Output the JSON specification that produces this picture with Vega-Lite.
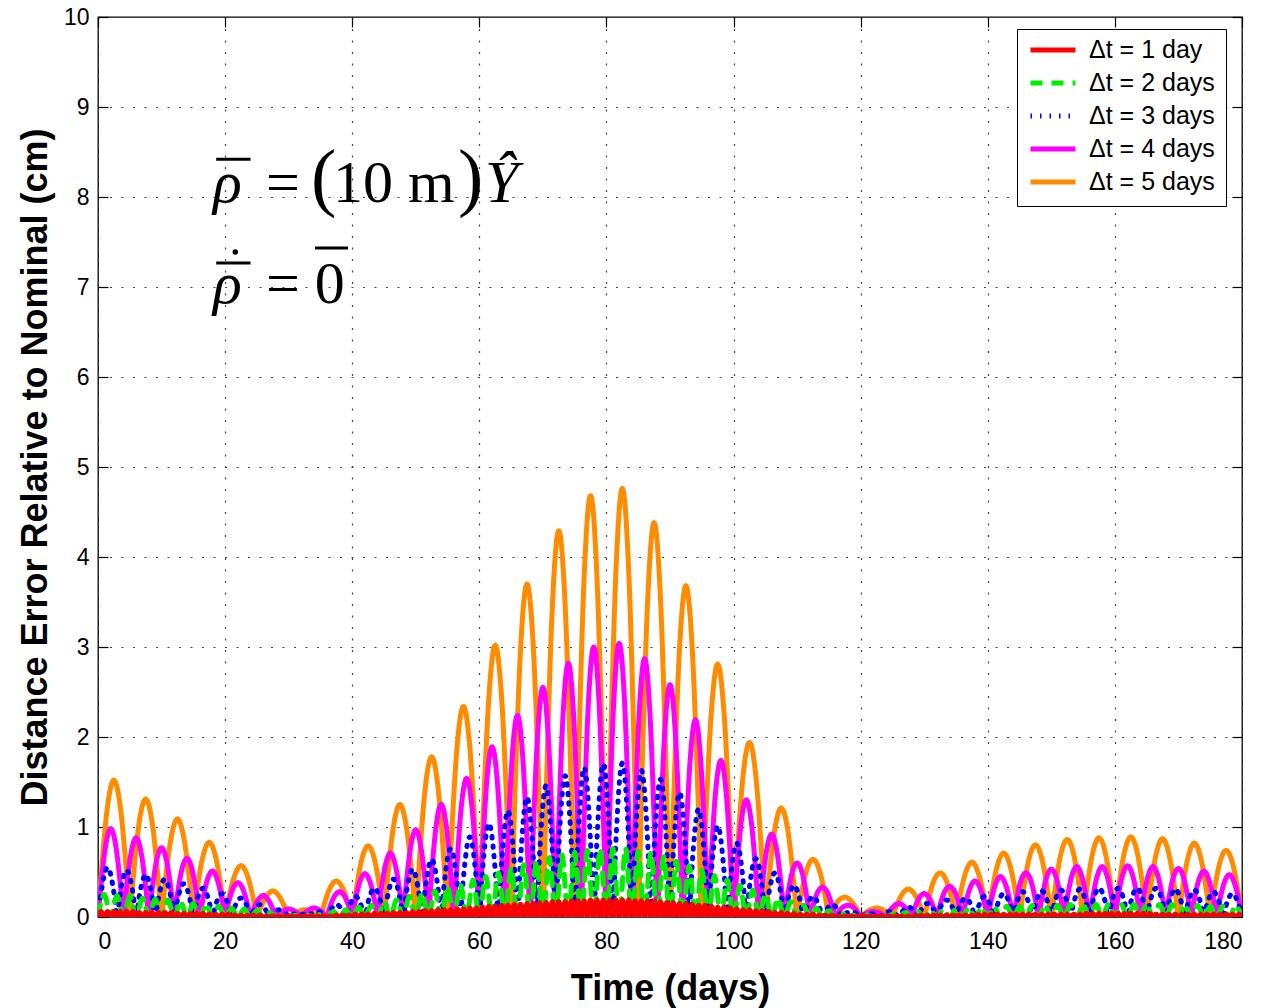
{
"$schema": "https://vega.github.io/schema/vega-lite/v6.json",
"width": 1144, "height": 900,
"autosize": {"type": "none"},
"padding": {"left": 98, "top": 17, "right": 25, "bottom": 91},
"background": "white",
"config": {
 "view": {"stroke": "black", "strokeWidth": 1.3},
 "font": "Liberation Sans",
 "axis": {"labelFont": "Liberation Sans", "labelFontSize": 23, "labelColor": "black", "titleFont": "Liberation Sans", "titleFontSize": 36, "titleFontWeight": "bold", "titleColor": "black", "tickColor": "black", "tickWidth": 1.2, "gridColor": "#444444", "gridDash": [2, 9.5], "gridWidth": 1.2, "gridOpacity": 1, "domain": false}
},
"datasets": {
"curves": [
{"d":5,"t":0,"e":0},{"d":5,"t":0.5,"e":0.47},{"d":5,"t":1.5,"e":1.23},{"d":5,"t":2.5,"e":1.52},{"d":5,"t":3.5,"e":1.23},{"d":5,"t":4.5,"e":0.47},
{"d":5,"t":5,"e":0},{"d":5,"t":5.5,"e":0.4},{"d":5,"t":6.5,"e":1.06},{"d":5,"t":7.5,"e":1.31},{"d":5,"t":8.5,"e":1.06},{"d":5,"t":9.5,"e":0.4},
{"d":5,"t":10,"e":0},{"d":5,"t":10.5,"e":0.34},{"d":5,"t":11.5,"e":0.88},{"d":5,"t":12.5,"e":1.09},{"d":5,"t":13.5,"e":0.88},{"d":5,"t":14.5,"e":0.34},
{"d":5,"t":15,"e":0},{"d":5,"t":15.5,"e":0.26},{"d":5,"t":16.5,"e":0.67},{"d":5,"t":17.5,"e":0.83},{"d":5,"t":18.5,"e":0.67},{"d":5,"t":19.5,"e":0.26},
{"d":5,"t":20,"e":0},{"d":5,"t":20.5,"e":0.18},{"d":5,"t":21.5,"e":0.46},{"d":5,"t":22.5,"e":0.57},{"d":5,"t":23.5,"e":0.46},{"d":5,"t":24.5,"e":0.18},
{"d":5,"t":25,"e":0},{"d":5,"t":25.5,"e":0.09},{"d":5,"t":26.5,"e":0.23},{"d":5,"t":27.5,"e":0.29},{"d":5,"t":28.5,"e":0.23},{"d":5,"t":29.5,"e":0.09},
{"d":5,"t":30,"e":0},{"d":5,"t":30.5,"e":0.02},{"d":5,"t":31.5,"e":0.06},{"d":5,"t":32.5,"e":0.08},{"d":5,"t":33.5,"e":0.06},{"d":5,"t":34.5,"e":0.02},
{"d":5,"t":35,"e":0},{"d":5,"t":35.5,"e":0.12},{"d":5,"t":36.5,"e":0.32},{"d":5,"t":37.5,"e":0.4},{"d":5,"t":38.5,"e":0.32},{"d":5,"t":39.5,"e":0.12},
{"d":5,"t":40,"e":0},{"d":5,"t":40.5,"e":0.24},{"d":5,"t":41.5,"e":0.64},{"d":5,"t":42.5,"e":0.79},{"d":5,"t":43.5,"e":0.64},{"d":5,"t":44.5,"e":0.24},
{"d":5,"t":45,"e":0},{"d":5,"t":45.5,"e":0.39},{"d":5,"t":46.5,"e":1.01},{"d":5,"t":47.5,"e":1.25},{"d":5,"t":48.5,"e":1.01},{"d":5,"t":49.5,"e":0.39},
{"d":5,"t":50,"e":0},{"d":5,"t":50.5,"e":0.55},{"d":5,"t":51.5,"e":1.44},{"d":5,"t":52.5,"e":1.78},{"d":5,"t":53.5,"e":1.44},{"d":5,"t":54.5,"e":0.55},
{"d":5,"t":55,"e":0},{"d":5,"t":55.5,"e":0.72},{"d":5,"t":56.5,"e":1.89},{"d":5,"t":57.5,"e":2.34},{"d":5,"t":58.5,"e":1.89},{"d":5,"t":59.5,"e":0.72},
{"d":5,"t":60,"e":0},{"d":5,"t":60.5,"e":0.93},{"d":5,"t":61.5,"e":2.44},{"d":5,"t":62.5,"e":3.02},{"d":5,"t":63.5,"e":2.44},{"d":5,"t":64.5,"e":0.93},
{"d":5,"t":65,"e":0},{"d":5,"t":65.5,"e":1.14},{"d":5,"t":66.5,"e":2.99},{"d":5,"t":67.5,"e":3.7},{"d":5,"t":68.5,"e":2.99},{"d":5,"t":69.5,"e":1.14},
{"d":5,"t":70,"e":0},{"d":5,"t":70.5,"e":1.33},{"d":5,"t":71.5,"e":3.47},{"d":5,"t":72.5,"e":4.29},{"d":5,"t":73.5,"e":3.47},{"d":5,"t":74.5,"e":1.33},
{"d":5,"t":75,"e":0},{"d":5,"t":75.5,"e":1.45},{"d":5,"t":76.5,"e":3.79},{"d":5,"t":77.5,"e":4.68},{"d":5,"t":78.5,"e":3.79},{"d":5,"t":79.5,"e":1.45},
{"d":5,"t":80,"e":0},{"d":5,"t":80.5,"e":1.47},{"d":5,"t":81.5,"e":3.85},{"d":5,"t":82.5,"e":4.76},{"d":5,"t":83.5,"e":3.85},{"d":5,"t":84.5,"e":1.47},
{"d":5,"t":85,"e":0},{"d":5,"t":85.5,"e":1.35},{"d":5,"t":86.5,"e":3.54},{"d":5,"t":87.5,"e":4.38},{"d":5,"t":88.5,"e":3.54},{"d":5,"t":89.5,"e":1.35},
{"d":5,"t":90,"e":0},{"d":5,"t":90.5,"e":1.14},{"d":5,"t":91.5,"e":2.98},{"d":5,"t":92.5,"e":3.68},{"d":5,"t":93.5,"e":2.98},{"d":5,"t":94.5,"e":1.14},
{"d":5,"t":95,"e":0},{"d":5,"t":95.5,"e":0.87},{"d":5,"t":96.5,"e":2.27},{"d":5,"t":97.5,"e":2.81},{"d":5,"t":98.5,"e":2.27},{"d":5,"t":99.5,"e":0.87},
{"d":5,"t":100,"e":0},{"d":5,"t":100.5,"e":0.6},{"d":5,"t":101.5,"e":1.57},{"d":5,"t":102.5,"e":1.94},{"d":5,"t":103.5,"e":1.57},{"d":5,"t":104.5,"e":0.6},
{"d":5,"t":105,"e":0},{"d":5,"t":105.5,"e":0.37},{"d":5,"t":106.5,"e":0.98},{"d":5,"t":107.5,"e":1.21},{"d":5,"t":108.5,"e":0.98},{"d":5,"t":109.5,"e":0.37},
{"d":5,"t":110,"e":0},{"d":5,"t":110.5,"e":0.2},{"d":5,"t":111.5,"e":0.52},{"d":5,"t":112.5,"e":0.64},{"d":5,"t":113.5,"e":0.52},{"d":5,"t":114.5,"e":0.2},
{"d":5,"t":115,"e":0},{"d":5,"t":115.5,"e":0.07},{"d":5,"t":116.5,"e":0.18},{"d":5,"t":117.5,"e":0.22},{"d":5,"t":118.5,"e":0.18},{"d":5,"t":119.5,"e":0.07},
{"d":5,"t":120,"e":0},{"d":5,"t":120.5,"e":0.03},{"d":5,"t":121.5,"e":0.08},{"d":5,"t":122.5,"e":0.1},{"d":5,"t":123.5,"e":0.08},{"d":5,"t":124.5,"e":0.03},
{"d":5,"t":125,"e":0},{"d":5,"t":125.5,"e":0.1},{"d":5,"t":126.5,"e":0.25},{"d":5,"t":127.5,"e":0.31},{"d":5,"t":128.5,"e":0.25},{"d":5,"t":129.5,"e":0.1},
{"d":5,"t":130,"e":0},{"d":5,"t":130.5,"e":0.15},{"d":5,"t":131.5,"e":0.4},{"d":5,"t":132.5,"e":0.49},{"d":5,"t":133.5,"e":0.4},{"d":5,"t":134.5,"e":0.15},
{"d":5,"t":135,"e":0},{"d":5,"t":135.5,"e":0.19},{"d":5,"t":136.5,"e":0.49},{"d":5,"t":137.5,"e":0.61},{"d":5,"t":138.5,"e":0.49},{"d":5,"t":139.5,"e":0.19},
{"d":5,"t":140,"e":0},{"d":5,"t":140.5,"e":0.22},{"d":5,"t":141.5,"e":0.57},{"d":5,"t":142.5,"e":0.71},{"d":5,"t":143.5,"e":0.57},{"d":5,"t":144.5,"e":0.22},
{"d":5,"t":145,"e":0},{"d":5,"t":145.5,"e":0.25},{"d":5,"t":146.5,"e":0.65},{"d":5,"t":147.5,"e":0.8},{"d":5,"t":148.5,"e":0.65},{"d":5,"t":149.5,"e":0.25},
{"d":5,"t":150,"e":0},{"d":5,"t":150.5,"e":0.27},{"d":5,"t":151.5,"e":0.7},{"d":5,"t":152.5,"e":0.86},{"d":5,"t":153.5,"e":0.7},{"d":5,"t":154.5,"e":0.27},
{"d":5,"t":155,"e":0},{"d":5,"t":155.5,"e":0.27},{"d":5,"t":156.5,"e":0.71},{"d":5,"t":157.5,"e":0.88},{"d":5,"t":158.5,"e":0.71},{"d":5,"t":159.5,"e":0.27},
{"d":5,"t":160,"e":0},{"d":5,"t":160.5,"e":0.28},{"d":5,"t":161.5,"e":0.72},{"d":5,"t":162.5,"e":0.89},{"d":5,"t":163.5,"e":0.72},{"d":5,"t":164.5,"e":0.28},
{"d":5,"t":165,"e":0},{"d":5,"t":165.5,"e":0.27},{"d":5,"t":166.5,"e":0.7},{"d":5,"t":167.5,"e":0.87},{"d":5,"t":168.5,"e":0.7},{"d":5,"t":169.5,"e":0.27},
{"d":5,"t":170,"e":0},{"d":5,"t":170.5,"e":0.25},{"d":5,"t":171.5,"e":0.66},{"d":5,"t":172.5,"e":0.82},{"d":5,"t":173.5,"e":0.66},{"d":5,"t":174.5,"e":0.25},
{"d":5,"t":175,"e":0},{"d":5,"t":175.5,"e":0.23},{"d":5,"t":176.5,"e":0.6},{"d":5,"t":177.5,"e":0.74},{"d":5,"t":178.5,"e":0.6},{"d":5,"t":179.5,"e":0.23},
{"d":5,"t":180,"e":0},

{"d":4,"t":0,"e":0},{"d":4,"t":0.4,"e":0.3},{"d":4,"t":1.2,"e":0.79},{"d":4,"t":2,"e":0.98},{"d":4,"t":2.8,"e":0.79},{"d":4,"t":3.6,"e":0.3},
{"d":4,"t":4,"e":0},{"d":4,"t":4.4,"e":0.27},{"d":4,"t":5.2,"e":0.71},{"d":4,"t":6,"e":0.88},{"d":4,"t":6.8,"e":0.71},{"d":4,"t":7.6,"e":0.27},
{"d":4,"t":8,"e":0},{"d":4,"t":8.4,"e":0.24},{"d":4,"t":9.2,"e":0.62},{"d":4,"t":10,"e":0.77},{"d":4,"t":10.8,"e":0.62},{"d":4,"t":11.6,"e":0.24},
{"d":4,"t":12,"e":0},{"d":4,"t":12.4,"e":0.2},{"d":4,"t":13.2,"e":0.53},{"d":4,"t":14,"e":0.65},{"d":4,"t":14.8,"e":0.53},{"d":4,"t":15.6,"e":0.2},
{"d":4,"t":16,"e":0},{"d":4,"t":16.4,"e":0.16},{"d":4,"t":17.2,"e":0.41},{"d":4,"t":18,"e":0.51},{"d":4,"t":18.8,"e":0.41},{"d":4,"t":19.6,"e":0.16},
{"d":4,"t":20,"e":0},{"d":4,"t":20.4,"e":0.12},{"d":4,"t":21.2,"e":0.31},{"d":4,"t":22,"e":0.38},{"d":4,"t":22.8,"e":0.31},{"d":4,"t":23.6,"e":0.12},
{"d":4,"t":24,"e":0},{"d":4,"t":24.4,"e":0.07},{"d":4,"t":25.2,"e":0.19},{"d":4,"t":26,"e":0.24},{"d":4,"t":26.8,"e":0.19},{"d":4,"t":27.6,"e":0.07},
{"d":4,"t":28,"e":0},{"d":4,"t":28.4,"e":0.03},{"d":4,"t":29.2,"e":0.07},{"d":4,"t":30,"e":0.09},{"d":4,"t":30.8,"e":0.07},{"d":4,"t":31.6,"e":0.03},
{"d":4,"t":32,"e":0},{"d":4,"t":32.4,"e":0.03},{"d":4,"t":33.2,"e":0.08},{"d":4,"t":34,"e":0.1},{"d":4,"t":34.8,"e":0.08},{"d":4,"t":35.6,"e":0.03},
{"d":4,"t":36,"e":0},{"d":4,"t":36.4,"e":0.09},{"d":4,"t":37.2,"e":0.23},{"d":4,"t":38,"e":0.28},{"d":4,"t":38.8,"e":0.23},{"d":4,"t":39.6,"e":0.09},
{"d":4,"t":40,"e":0},{"d":4,"t":40.4,"e":0.15},{"d":4,"t":41.2,"e":0.39},{"d":4,"t":42,"e":0.48},{"d":4,"t":42.8,"e":0.39},{"d":4,"t":43.6,"e":0.15},
{"d":4,"t":44,"e":0},{"d":4,"t":44.4,"e":0.22},{"d":4,"t":45.2,"e":0.57},{"d":4,"t":46,"e":0.71},{"d":4,"t":46.8,"e":0.57},{"d":4,"t":47.6,"e":0.22},
{"d":4,"t":48,"e":0},{"d":4,"t":48.4,"e":0.3},{"d":4,"t":49.2,"e":0.78},{"d":4,"t":50,"e":0.97},{"d":4,"t":50.8,"e":0.78},{"d":4,"t":51.6,"e":0.3},
{"d":4,"t":52,"e":0},{"d":4,"t":52.4,"e":0.39},{"d":4,"t":53.2,"e":1.01},{"d":4,"t":54,"e":1.25},{"d":4,"t":54.8,"e":1.01},{"d":4,"t":55.6,"e":0.39},
{"d":4,"t":56,"e":0},{"d":4,"t":56.4,"e":0.48},{"d":4,"t":57.2,"e":1.25},{"d":4,"t":58,"e":1.54},{"d":4,"t":58.8,"e":1.25},{"d":4,"t":59.6,"e":0.48},
{"d":4,"t":60,"e":0},{"d":4,"t":60.4,"e":0.58},{"d":4,"t":61.2,"e":1.53},{"d":4,"t":62,"e":1.89},{"d":4,"t":62.8,"e":1.53},{"d":4,"t":63.6,"e":0.58},
{"d":4,"t":64,"e":0},{"d":4,"t":64.4,"e":0.69},{"d":4,"t":65.2,"e":1.81},{"d":4,"t":66,"e":2.24},{"d":4,"t":66.8,"e":1.81},{"d":4,"t":67.6,"e":0.69},
{"d":4,"t":68,"e":0},{"d":4,"t":68.4,"e":0.79},{"d":4,"t":69.2,"e":2.06},{"d":4,"t":70,"e":2.55},{"d":4,"t":70.8,"e":2.06},{"d":4,"t":71.6,"e":0.79},
{"d":4,"t":72,"e":0},{"d":4,"t":72.4,"e":0.87},{"d":4,"t":73.2,"e":2.28},{"d":4,"t":74,"e":2.82},{"d":4,"t":74.8,"e":2.28},{"d":4,"t":75.6,"e":0.87},
{"d":4,"t":76,"e":0},{"d":4,"t":76.4,"e":0.93},{"d":4,"t":77.2,"e":2.43},{"d":4,"t":78,"e":3},{"d":4,"t":78.8,"e":2.43},{"d":4,"t":79.6,"e":0.93},
{"d":4,"t":80,"e":0},{"d":4,"t":80.4,"e":0.94},{"d":4,"t":81.2,"e":2.46},{"d":4,"t":82,"e":3.04},{"d":4,"t":82.8,"e":2.46},{"d":4,"t":83.6,"e":0.94},
{"d":4,"t":84,"e":0},{"d":4,"t":84.4,"e":0.89},{"d":4,"t":85.2,"e":2.32},{"d":4,"t":86,"e":2.87},{"d":4,"t":86.8,"e":2.32},{"d":4,"t":87.6,"e":0.89},
{"d":4,"t":88,"e":0},{"d":4,"t":88.4,"e":0.8},{"d":4,"t":89.2,"e":2.09},{"d":4,"t":90,"e":2.58},{"d":4,"t":90.8,"e":2.09},{"d":4,"t":91.6,"e":0.8},
{"d":4,"t":92,"e":0},{"d":4,"t":92.4,"e":0.68},{"d":4,"t":93.2,"e":1.77},{"d":4,"t":94,"e":2.19},{"d":4,"t":94.8,"e":1.77},{"d":4,"t":95.6,"e":0.68},
{"d":4,"t":96,"e":0},{"d":4,"t":96.4,"e":0.54},{"d":4,"t":97.2,"e":1.41},{"d":4,"t":98,"e":1.74},{"d":4,"t":98.8,"e":1.41},{"d":4,"t":99.6,"e":0.54},
{"d":4,"t":100,"e":0},{"d":4,"t":100.4,"e":0.4},{"d":4,"t":101.2,"e":1.05},{"d":4,"t":102,"e":1.3},{"d":4,"t":102.8,"e":1.05},{"d":4,"t":103.6,"e":0.4},
{"d":4,"t":104,"e":0},{"d":4,"t":104.4,"e":0.28},{"d":4,"t":105.2,"e":0.74},{"d":4,"t":106,"e":0.92},{"d":4,"t":106.8,"e":0.74},{"d":4,"t":107.6,"e":0.28},
{"d":4,"t":108,"e":0},{"d":4,"t":108.4,"e":0.19},{"d":4,"t":109.2,"e":0.49},{"d":4,"t":110,"e":0.6},{"d":4,"t":110.8,"e":0.49},{"d":4,"t":111.6,"e":0.19},
{"d":4,"t":112,"e":0},{"d":4,"t":112.4,"e":0.1},{"d":4,"t":113.2,"e":0.27},{"d":4,"t":114,"e":0.33},{"d":4,"t":114.8,"e":0.27},{"d":4,"t":115.6,"e":0.1},
{"d":4,"t":116,"e":0},{"d":4,"t":116.4,"e":0.04},{"d":4,"t":117.2,"e":0.11},{"d":4,"t":118,"e":0.13},{"d":4,"t":118.8,"e":0.11},{"d":4,"t":119.6,"e":0.04},
{"d":4,"t":120,"e":0},{"d":4,"t":120.4,"e":0.02},{"d":4,"t":121.2,"e":0.05},{"d":4,"t":122,"e":0.06},{"d":4,"t":122.8,"e":0.05},{"d":4,"t":123.6,"e":0.02},
{"d":4,"t":124,"e":0},{"d":4,"t":124.4,"e":0.05},{"d":4,"t":125.2,"e":0.12},{"d":4,"t":126,"e":0.15},{"d":4,"t":126.8,"e":0.12},{"d":4,"t":127.6,"e":0.05},
{"d":4,"t":128,"e":0},{"d":4,"t":128.4,"e":0.08},{"d":4,"t":129.2,"e":0.21},{"d":4,"t":130,"e":0.26},{"d":4,"t":130.8,"e":0.21},{"d":4,"t":131.6,"e":0.08},
{"d":4,"t":132,"e":0},{"d":4,"t":132.4,"e":0.11},{"d":4,"t":133.2,"e":0.28},{"d":4,"t":134,"e":0.34},{"d":4,"t":134.8,"e":0.28},{"d":4,"t":135.6,"e":0.11},
{"d":4,"t":136,"e":0},{"d":4,"t":136.4,"e":0.12},{"d":4,"t":137.2,"e":0.32},{"d":4,"t":138,"e":0.4},{"d":4,"t":138.8,"e":0.32},{"d":4,"t":139.6,"e":0.12},
{"d":4,"t":140,"e":0},{"d":4,"t":140.4,"e":0.14},{"d":4,"t":141.2,"e":0.36},{"d":4,"t":142,"e":0.45},{"d":4,"t":142.8,"e":0.36},{"d":4,"t":143.6,"e":0.14},
{"d":4,"t":144,"e":0},{"d":4,"t":144.4,"e":0.15},{"d":4,"t":145.2,"e":0.4},{"d":4,"t":146,"e":0.49},{"d":4,"t":146.8,"e":0.4},{"d":4,"t":147.6,"e":0.15},
{"d":4,"t":148,"e":0},{"d":4,"t":148.4,"e":0.16},{"d":4,"t":149.2,"e":0.43},{"d":4,"t":150,"e":0.53},{"d":4,"t":150.8,"e":0.43},{"d":4,"t":151.6,"e":0.16},
{"d":4,"t":152,"e":0},{"d":4,"t":152.4,"e":0.17},{"d":4,"t":153.2,"e":0.45},{"d":4,"t":154,"e":0.56},{"d":4,"t":154.8,"e":0.45},{"d":4,"t":155.6,"e":0.17},
{"d":4,"t":156,"e":0},{"d":4,"t":156.4,"e":0.17},{"d":4,"t":157.2,"e":0.45},{"d":4,"t":158,"e":0.56},{"d":4,"t":158.8,"e":0.45},{"d":4,"t":159.6,"e":0.17},
{"d":4,"t":160,"e":0},{"d":4,"t":160.4,"e":0.18},{"d":4,"t":161.2,"e":0.46},{"d":4,"t":162,"e":0.57},{"d":4,"t":162.8,"e":0.46},{"d":4,"t":163.6,"e":0.18},
{"d":4,"t":164,"e":0},{"d":4,"t":164.4,"e":0.17},{"d":4,"t":165.2,"e":0.45},{"d":4,"t":166,"e":0.56},{"d":4,"t":166.8,"e":0.45},{"d":4,"t":167.6,"e":0.17},
{"d":4,"t":168,"e":0},{"d":4,"t":168.4,"e":0.17},{"d":4,"t":169.2,"e":0.44},{"d":4,"t":170,"e":0.54},{"d":4,"t":170.8,"e":0.44},{"d":4,"t":171.6,"e":0.17},
{"d":4,"t":172,"e":0},{"d":4,"t":172.4,"e":0.16},{"d":4,"t":173.2,"e":0.41},{"d":4,"t":174,"e":0.51},{"d":4,"t":174.8,"e":0.41},{"d":4,"t":175.6,"e":0.16},
{"d":4,"t":176,"e":0},{"d":4,"t":176.4,"e":0.15},{"d":4,"t":177.2,"e":0.38},{"d":4,"t":178,"e":0.47},{"d":4,"t":178.8,"e":0.38},{"d":4,"t":179.6,"e":0.15},
{"d":4,"t":180,"e":0},

{"d":3,"t":0,"e":0},{"d":3,"t":0.45,"e":0.25},{"d":3,"t":1.5,"e":0.55},{"d":3,"t":2.55,"e":0.25},
{"d":3,"t":3,"e":0},{"d":3,"t":3.45,"e":0.24},{"d":3,"t":4.5,"e":0.52},{"d":3,"t":5.55,"e":0.24},
{"d":3,"t":6,"e":0},{"d":3,"t":6.45,"e":0.21},{"d":3,"t":7.5,"e":0.47},{"d":3,"t":8.55,"e":0.21},
{"d":3,"t":9,"e":0},{"d":3,"t":9.45,"e":0.19},{"d":3,"t":10.5,"e":0.42},{"d":3,"t":11.55,"e":0.19},
{"d":3,"t":12,"e":0},{"d":3,"t":12.45,"e":0.17},{"d":3,"t":13.5,"e":0.37},{"d":3,"t":14.55,"e":0.17},
{"d":3,"t":15,"e":0},{"d":3,"t":15.45,"e":0.15},{"d":3,"t":16.5,"e":0.32},{"d":3,"t":17.55,"e":0.15},
{"d":3,"t":18,"e":0},{"d":3,"t":18.45,"e":0.12},{"d":3,"t":19.5,"e":0.26},{"d":3,"t":20.55,"e":0.12},
{"d":3,"t":21,"e":0},{"d":3,"t":21.45,"e":0.1},{"d":3,"t":22.5,"e":0.21},{"d":3,"t":23.55,"e":0.1},
{"d":3,"t":24,"e":0},{"d":3,"t":24.45,"e":0.06},{"d":3,"t":25.5,"e":0.14},{"d":3,"t":26.55,"e":0.06},
{"d":3,"t":27,"e":0},{"d":3,"t":27.45,"e":0.04},{"d":3,"t":28.5,"e":0.08},{"d":3,"t":29.55,"e":0.04},
{"d":3,"t":30,"e":0},{"d":3,"t":30.45,"e":0.02},{"d":3,"t":31.5,"e":0.04},{"d":3,"t":32.55,"e":0.02},
{"d":3,"t":33,"e":0},{"d":3,"t":33.45,"e":0.03},{"d":3,"t":34.5,"e":0.06},{"d":3,"t":35.55,"e":0.03},
{"d":3,"t":36,"e":0},{"d":3,"t":36.45,"e":0.06},{"d":3,"t":37.5,"e":0.14},{"d":3,"t":38.55,"e":0.06},
{"d":3,"t":39,"e":0},{"d":3,"t":39.45,"e":0.1},{"d":3,"t":40.5,"e":0.23},{"d":3,"t":41.55,"e":0.1},
{"d":3,"t":42,"e":0},{"d":3,"t":42.45,"e":0.15},{"d":3,"t":43.5,"e":0.32},{"d":3,"t":44.55,"e":0.15},
{"d":3,"t":45,"e":0},{"d":3,"t":45.45,"e":0.19},{"d":3,"t":46.5,"e":0.42},{"d":3,"t":47.55,"e":0.19},
{"d":3,"t":48,"e":0},{"d":3,"t":48.45,"e":0.24},{"d":3,"t":49.5,"e":0.53},{"d":3,"t":50.55,"e":0.24},
{"d":3,"t":51,"e":0},{"d":3,"t":51.45,"e":0.29},{"d":3,"t":52.5,"e":0.64},{"d":3,"t":53.55,"e":0.29},
{"d":3,"t":54,"e":0},{"d":3,"t":54.45,"e":0.35},{"d":3,"t":55.5,"e":0.76},{"d":3,"t":56.55,"e":0.35},
{"d":3,"t":57,"e":0},{"d":3,"t":57.45,"e":0.4},{"d":3,"t":58.5,"e":0.89},{"d":3,"t":59.55,"e":0.4},
{"d":3,"t":60,"e":0},{"d":3,"t":60.45,"e":0.47},{"d":3,"t":61.5,"e":1.04},{"d":3,"t":62.55,"e":0.47},
{"d":3,"t":63,"e":0},{"d":3,"t":63.45,"e":0.54},{"d":3,"t":64.5,"e":1.18},{"d":3,"t":65.55,"e":0.54},
{"d":3,"t":66,"e":0},{"d":3,"t":66.45,"e":0.6},{"d":3,"t":67.5,"e":1.33},{"d":3,"t":68.55,"e":0.6},
{"d":3,"t":69,"e":0},{"d":3,"t":69.45,"e":0.66},{"d":3,"t":70.5,"e":1.46},{"d":3,"t":71.55,"e":0.66},
{"d":3,"t":72,"e":0},{"d":3,"t":72.45,"e":0.71},{"d":3,"t":73.5,"e":1.57},{"d":3,"t":74.55,"e":0.71},
{"d":3,"t":75,"e":0},{"d":3,"t":75.45,"e":0.75},{"d":3,"t":76.5,"e":1.66},{"d":3,"t":77.55,"e":0.75},
{"d":3,"t":78,"e":0},{"d":3,"t":78.45,"e":0.77},{"d":3,"t":79.5,"e":1.7},{"d":3,"t":80.55,"e":0.77},
{"d":3,"t":81,"e":0},{"d":3,"t":81.45,"e":0.78},{"d":3,"t":82.5,"e":1.71},{"d":3,"t":83.55,"e":0.78},
{"d":3,"t":84,"e":0},{"d":3,"t":84.45,"e":0.74},{"d":3,"t":85.5,"e":1.63},{"d":3,"t":86.55,"e":0.74},
{"d":3,"t":87,"e":0},{"d":3,"t":87.45,"e":0.69},{"d":3,"t":88.5,"e":1.53},{"d":3,"t":89.55,"e":0.69},
{"d":3,"t":90,"e":0},{"d":3,"t":90.45,"e":0.63},{"d":3,"t":91.5,"e":1.38},{"d":3,"t":92.55,"e":0.63},
{"d":3,"t":93,"e":0},{"d":3,"t":93.45,"e":0.54},{"d":3,"t":94.5,"e":1.2},{"d":3,"t":95.55,"e":0.54},
{"d":3,"t":96,"e":0},{"d":3,"t":96.45,"e":0.46},{"d":3,"t":97.5,"e":1.01},{"d":3,"t":98.55,"e":0.46},
{"d":3,"t":99,"e":0},{"d":3,"t":99.45,"e":0.37},{"d":3,"t":100.5,"e":0.82},{"d":3,"t":101.55,"e":0.37},
{"d":3,"t":102,"e":0},{"d":3,"t":102.45,"e":0.3},{"d":3,"t":103.5,"e":0.65},{"d":3,"t":104.55,"e":0.3},
{"d":3,"t":105,"e":0},{"d":3,"t":105.45,"e":0.22},{"d":3,"t":106.5,"e":0.49},{"d":3,"t":107.55,"e":0.22},
{"d":3,"t":108,"e":0},{"d":3,"t":108.45,"e":0.16},{"d":3,"t":109.5,"e":0.35},{"d":3,"t":110.55,"e":0.16},
{"d":3,"t":111,"e":0},{"d":3,"t":111.45,"e":0.1},{"d":3,"t":112.5,"e":0.23},{"d":3,"t":113.55,"e":0.1},
{"d":3,"t":114,"e":0},{"d":3,"t":114.45,"e":0.06},{"d":3,"t":115.5,"e":0.14},{"d":3,"t":116.55,"e":0.06},
{"d":3,"t":117,"e":0},{"d":3,"t":117.45,"e":0.03},{"d":3,"t":118.5,"e":0.06},{"d":3,"t":119.55,"e":0.03},
{"d":3,"t":120,"e":0},{"d":3,"t":120.45,"e":0.02},{"d":3,"t":121.5,"e":0.04},{"d":3,"t":122.55,"e":0.02},
{"d":3,"t":123,"e":0},{"d":3,"t":123.45,"e":0.03},{"d":3,"t":124.5,"e":0.06},{"d":3,"t":125.55,"e":0.03},
{"d":3,"t":126,"e":0},{"d":3,"t":126.45,"e":0.05},{"d":3,"t":127.5,"e":0.11},{"d":3,"t":128.55,"e":0.05},
{"d":3,"t":129,"e":0},{"d":3,"t":129.45,"e":0.07},{"d":3,"t":130.5,"e":0.15},{"d":3,"t":131.55,"e":0.07},
{"d":3,"t":132,"e":0},{"d":3,"t":132.45,"e":0.09},{"d":3,"t":133.5,"e":0.19},{"d":3,"t":134.55,"e":0.09},
{"d":3,"t":135,"e":0},{"d":3,"t":135.45,"e":0.1},{"d":3,"t":136.5,"e":0.21},{"d":3,"t":137.55,"e":0.1},
{"d":3,"t":138,"e":0},{"d":3,"t":138.45,"e":0.1},{"d":3,"t":139.5,"e":0.23},{"d":3,"t":140.55,"e":0.1},
{"d":3,"t":141,"e":0},{"d":3,"t":141.45,"e":0.12},{"d":3,"t":142.5,"e":0.26},{"d":3,"t":143.55,"e":0.12},
{"d":3,"t":144,"e":0},{"d":3,"t":144.45,"e":0.13},{"d":3,"t":145.5,"e":0.28},{"d":3,"t":146.55,"e":0.13},
{"d":3,"t":147,"e":0},{"d":3,"t":147.45,"e":0.13},{"d":3,"t":148.5,"e":0.29},{"d":3,"t":149.55,"e":0.13},
{"d":3,"t":150,"e":0},{"d":3,"t":150.45,"e":0.14},{"d":3,"t":151.5,"e":0.3},{"d":3,"t":152.55,"e":0.14},
{"d":3,"t":153,"e":0},{"d":3,"t":153.45,"e":0.14},{"d":3,"t":154.5,"e":0.31},{"d":3,"t":155.55,"e":0.14},
{"d":3,"t":156,"e":0},{"d":3,"t":156.45,"e":0.15},{"d":3,"t":157.5,"e":0.32},{"d":3,"t":158.55,"e":0.15},
{"d":3,"t":159,"e":0},{"d":3,"t":159.45,"e":0.15},{"d":3,"t":160.5,"e":0.32},{"d":3,"t":161.55,"e":0.15},
{"d":3,"t":162,"e":0},{"d":3,"t":162.45,"e":0.15},{"d":3,"t":163.5,"e":0.32},{"d":3,"t":164.55,"e":0.15},
{"d":3,"t":165,"e":0},{"d":3,"t":165.45,"e":0.15},{"d":3,"t":166.5,"e":0.32},{"d":3,"t":167.55,"e":0.15},
{"d":3,"t":168,"e":0},{"d":3,"t":168.45,"e":0.14},{"d":3,"t":169.5,"e":0.31},{"d":3,"t":170.55,"e":0.14},
{"d":3,"t":171,"e":0},{"d":3,"t":171.45,"e":0.14},{"d":3,"t":172.5,"e":0.3},{"d":3,"t":173.55,"e":0.14},
{"d":3,"t":174,"e":0},{"d":3,"t":174.45,"e":0.13},{"d":3,"t":175.5,"e":0.28},{"d":3,"t":176.55,"e":0.13},
{"d":3,"t":177,"e":0},{"d":3,"t":177.45,"e":0.12},{"d":3,"t":178.5,"e":0.26},{"d":3,"t":179.55,"e":0.12},
{"d":3,"t":180,"e":0},

{"d":2,"t":0,"e":0},{"d":2,"t":1,"e":0.25},{"d":2,"t":2,"e":0},{"d":2,"t":3,"e":0.24},{"d":2,"t":4,"e":0},{"d":2,"t":5,"e":0.23},{"d":2,"t":6,"e":0},{"d":2,"t":7,"e":0.21},{"d":2,"t":8,"e":0},{"d":2,"t":9,"e":0.2},{"d":2,"t":10,"e":0},{"d":2,"t":11,"e":0.19},{"d":2,"t":12,"e":0},{"d":2,"t":13,"e":0.17},{"d":2,"t":14,"e":0},{"d":2,"t":15,"e":0.15},{"d":2,"t":16,"e":0},{"d":2,"t":17,"e":0.14},{"d":2,"t":18,"e":0},{"d":2,"t":19,"e":0.12},
{"d":2,"t":20,"e":0},{"d":2,"t":21,"e":0.1},{"d":2,"t":22,"e":0},{"d":2,"t":23,"e":0.09},{"d":2,"t":24,"e":0},{"d":2,"t":25,"e":0.07},{"d":2,"t":26,"e":0},{"d":2,"t":27,"e":0.05},{"d":2,"t":28,"e":0},{"d":2,"t":29,"e":0.03},{"d":2,"t":30,"e":0},{"d":2,"t":31,"e":0.02},{"d":2,"t":32,"e":0},{"d":2,"t":33,"e":0.02},{"d":2,"t":34,"e":0},{"d":2,"t":35,"e":0.03},{"d":2,"t":36,"e":0},{"d":2,"t":37,"e":0.06},{"d":2,"t":38,"e":0},{"d":2,"t":39,"e":0.08},
{"d":2,"t":40,"e":0},{"d":2,"t":41,"e":0.11},{"d":2,"t":42,"e":0},{"d":2,"t":43,"e":0.13},{"d":2,"t":44,"e":0},{"d":2,"t":45,"e":0.16},{"d":2,"t":46,"e":0},{"d":2,"t":47,"e":0.19},{"d":2,"t":48,"e":0},{"d":2,"t":49,"e":0.23},{"d":2,"t":50,"e":0},{"d":2,"t":51,"e":0.26},{"d":2,"t":52,"e":0},{"d":2,"t":53,"e":0.29},{"d":2,"t":54,"e":0},{"d":2,"t":55,"e":0.33},{"d":2,"t":56,"e":0},{"d":2,"t":57,"e":0.36},{"d":2,"t":58,"e":0},{"d":2,"t":59,"e":0.41},
{"d":2,"t":60,"e":0},{"d":2,"t":61,"e":0.45},{"d":2,"t":62,"e":0},{"d":2,"t":63,"e":0.49},{"d":2,"t":64,"e":0},{"d":2,"t":65,"e":0.54},{"d":2,"t":66,"e":0},{"d":2,"t":67,"e":0.58},{"d":2,"t":68,"e":0},{"d":2,"t":69,"e":0.62},{"d":2,"t":70,"e":0},{"d":2,"t":71,"e":0.66},{"d":2,"t":72,"e":0},{"d":2,"t":73,"e":0.69},{"d":2,"t":74,"e":0},{"d":2,"t":75,"e":0.72},{"d":2,"t":76,"e":0},{"d":2,"t":77,"e":0.74},{"d":2,"t":78,"e":0},{"d":2,"t":79,"e":0.75},
{"d":2,"t":80,"e":0},{"d":2,"t":81,"e":0.76},{"d":2,"t":82,"e":0},{"d":2,"t":83,"e":0.76},{"d":2,"t":84,"e":0},{"d":2,"t":85,"e":0.73},{"d":2,"t":86,"e":0},{"d":2,"t":87,"e":0.71},{"d":2,"t":88,"e":0},{"d":2,"t":89,"e":0.67},{"d":2,"t":90,"e":0},{"d":2,"t":91,"e":0.62},{"d":2,"t":92,"e":0},{"d":2,"t":93,"e":0.57},{"d":2,"t":94,"e":0},{"d":2,"t":95,"e":0.52},{"d":2,"t":96,"e":0},{"d":2,"t":97,"e":0.46},{"d":2,"t":98,"e":0},{"d":2,"t":99,"e":0.41},
{"d":2,"t":100,"e":0},{"d":2,"t":101,"e":0.35},{"d":2,"t":102,"e":0},{"d":2,"t":103,"e":0.3},{"d":2,"t":104,"e":0},{"d":2,"t":105,"e":0.25},{"d":2,"t":106,"e":0},{"d":2,"t":107,"e":0.2},{"d":2,"t":108,"e":0},{"d":2,"t":109,"e":0.17},{"d":2,"t":110,"e":0},{"d":2,"t":111,"e":0.13},{"d":2,"t":112,"e":0},{"d":2,"t":113,"e":0.1},{"d":2,"t":114,"e":0},{"d":2,"t":115,"e":0.07},{"d":2,"t":116,"e":0},{"d":2,"t":117,"e":0.04},{"d":2,"t":118,"e":0},{"d":2,"t":119,"e":0.02},
{"d":2,"t":120,"e":0},{"d":2,"t":121,"e":0.02},{"d":2,"t":122,"e":0},{"d":2,"t":123,"e":0.02},{"d":2,"t":124,"e":0},{"d":2,"t":125,"e":0.03},{"d":2,"t":126,"e":0},{"d":2,"t":127,"e":0.05},{"d":2,"t":128,"e":0},{"d":2,"t":129,"e":0.06},{"d":2,"t":130,"e":0},{"d":2,"t":131,"e":0.07},{"d":2,"t":132,"e":0},{"d":2,"t":133,"e":0.08},{"d":2,"t":134,"e":0},{"d":2,"t":135,"e":0.09},{"d":2,"t":136,"e":0},{"d":2,"t":137,"e":0.1},{"d":2,"t":138,"e":0},{"d":2,"t":139,"e":0.1},
{"d":2,"t":140,"e":0},{"d":2,"t":141,"e":0.11},{"d":2,"t":142,"e":0},{"d":2,"t":143,"e":0.12},{"d":2,"t":144,"e":0},{"d":2,"t":145,"e":0.12},{"d":2,"t":146,"e":0},{"d":2,"t":147,"e":0.13},{"d":2,"t":148,"e":0},{"d":2,"t":149,"e":0.13},{"d":2,"t":150,"e":0},{"d":2,"t":151,"e":0.13},{"d":2,"t":152,"e":0},{"d":2,"t":153,"e":0.14},{"d":2,"t":154,"e":0},{"d":2,"t":155,"e":0.14},{"d":2,"t":156,"e":0},{"d":2,"t":157,"e":0.14},{"d":2,"t":158,"e":0},{"d":2,"t":159,"e":0.14},
{"d":2,"t":160,"e":0},{"d":2,"t":161,"e":0.14},{"d":2,"t":162,"e":0},{"d":2,"t":163,"e":0.14},{"d":2,"t":164,"e":0},{"d":2,"t":165,"e":0.14},{"d":2,"t":166,"e":0},{"d":2,"t":167,"e":0.14},{"d":2,"t":168,"e":0},{"d":2,"t":169,"e":0.14},{"d":2,"t":170,"e":0},{"d":2,"t":171,"e":0.13},{"d":2,"t":172,"e":0},{"d":2,"t":173,"e":0.13},{"d":2,"t":174,"e":0},{"d":2,"t":175,"e":0.12},{"d":2,"t":176,"e":0},{"d":2,"t":177,"e":0.12},{"d":2,"t":178,"e":0},{"d":2,"t":179,"e":0.12},{"d":2,"t":180,"e":0},

{"d":1,"t":0,"e":0},{"d":1,"t":0.5,"e":0.06},{"d":1,"t":1,"e":0},{"d":1,"t":1.5,"e":0.06},{"d":1,"t":2,"e":0},{"d":1,"t":2.5,"e":0.06},{"d":1,"t":3,"e":0},{"d":1,"t":3.5,"e":0.06},{"d":1,"t":4,"e":0},{"d":1,"t":4.5,"e":0.06},{"d":1,"t":5,"e":0},{"d":1,"t":5.5,"e":0.06},
{"d":1,"t":6,"e":0},{"d":1,"t":6.5,"e":0.05},{"d":1,"t":7,"e":0},{"d":1,"t":7.5,"e":0.05},{"d":1,"t":8,"e":0},{"d":1,"t":8.5,"e":0.05},{"d":1,"t":9,"e":0},{"d":1,"t":9.5,"e":0.05},{"d":1,"t":10,"e":0},{"d":1,"t":10.5,"e":0.05},{"d":1,"t":11,"e":0},{"d":1,"t":11.5,"e":0.05},
{"d":1,"t":12,"e":0},{"d":1,"t":12.5,"e":0.04},{"d":1,"t":13,"e":0},{"d":1,"t":13.5,"e":0.04},{"d":1,"t":14,"e":0},{"d":1,"t":14.5,"e":0.04},{"d":1,"t":15,"e":0},{"d":1,"t":15.5,"e":0.04},{"d":1,"t":16,"e":0},{"d":1,"t":16.5,"e":0.04},
{"d":1,"t":17,"e":0},{"d":1,"t":17.5,"e":0.03},{"d":1,"t":18,"e":0},{"d":1,"t":18.5,"e":0.03},{"d":1,"t":19,"e":0},{"d":1,"t":19.5,"e":0.03},{"d":1,"t":20,"e":0},{"d":1,"t":20.5,"e":0.03},
{"d":1,"t":21,"e":0},{"d":1,"t":21.5,"e":0.02},{"d":1,"t":22,"e":0},{"d":1,"t":22.5,"e":0.02},{"d":1,"t":23,"e":0},{"d":1,"t":23.5,"e":0.02},{"d":1,"t":24,"e":0},{"d":1,"t":24.5,"e":0.02},{"d":1,"t":25,"e":0},{"d":1,"t":25.5,"e":0.02},
{"d":1,"t":26,"e":0},{"d":1,"t":26.5,"e":0.01},{"d":1,"t":27,"e":0},{"d":1,"t":27.5,"e":0.01},{"d":1,"t":28,"e":0},{"d":1,"t":28.5,"e":0.01},{"d":1,"t":29,"e":0},{"d":1,"t":29.5,"e":0.01},{"d":1,"t":30,"e":0},{"d":1,"t":30.5,"e":0.01},{"d":1,"t":31,"e":0},{"d":1,"t":31.5,"e":0.01},{"d":1,"t":32,"e":0},{"d":1,"t":32.5,"e":0.01},{"d":1,"t":33,"e":0},{"d":1,"t":33.5,"e":0.01},{"d":1,"t":34,"e":0},{"d":1,"t":34.5,"e":0.01},{"d":1,"t":35,"e":0},{"d":1,"t":35.5,"e":0.01},{"d":1,"t":36,"e":0},{"d":1,"t":36.5,"e":0.01},
{"d":1,"t":37,"e":0},{"d":1,"t":37.5,"e":0.02},{"d":1,"t":38,"e":0},{"d":1,"t":38.5,"e":0.02},{"d":1,"t":39,"e":0},{"d":1,"t":39.5,"e":0.02},
{"d":1,"t":40,"e":0},{"d":1,"t":40.5,"e":0.03},{"d":1,"t":41,"e":0},{"d":1,"t":41.5,"e":0.03},{"d":1,"t":42,"e":0},{"d":1,"t":42.5,"e":0.03},
{"d":1,"t":43,"e":0},{"d":1,"t":43.5,"e":0.04},{"d":1,"t":44,"e":0},{"d":1,"t":44.5,"e":0.04},{"d":1,"t":45,"e":0},{"d":1,"t":45.5,"e":0.04},
{"d":1,"t":46,"e":0},{"d":1,"t":46.5,"e":0.05},{"d":1,"t":47,"e":0},{"d":1,"t":47.5,"e":0.05},{"d":1,"t":48,"e":0},{"d":1,"t":48.5,"e":0.05},
{"d":1,"t":49,"e":0},{"d":1,"t":49.5,"e":0.06},{"d":1,"t":50,"e":0},{"d":1,"t":50.5,"e":0.06},
{"d":1,"t":51,"e":0},{"d":1,"t":51.5,"e":0.07},{"d":1,"t":52,"e":0},{"d":1,"t":52.5,"e":0.07},
{"d":1,"t":53,"e":0},{"d":1,"t":53.5,"e":0.08},{"d":1,"t":54,"e":0},{"d":1,"t":54.5,"e":0.08},{"d":1,"t":55,"e":0},{"d":1,"t":55.5,"e":0.08},
{"d":1,"t":56,"e":0},{"d":1,"t":56.5,"e":0.09},{"d":1,"t":57,"e":0},{"d":1,"t":57.5,"e":0.09},
{"d":1,"t":58,"e":0},{"d":1,"t":58.5,"e":0.1},{"d":1,"t":59,"e":0},{"d":1,"t":59.5,"e":0.1},
{"d":1,"t":60,"e":0},{"d":1,"t":60.5,"e":0.11},
{"d":1,"t":61,"e":0},{"d":1,"t":61.5,"e":0.12},{"d":1,"t":62,"e":0},{"d":1,"t":62.5,"e":0.12},
{"d":1,"t":63,"e":0},{"d":1,"t":63.5,"e":0.13},{"d":1,"t":64,"e":0},{"d":1,"t":64.5,"e":0.13},
{"d":1,"t":65,"e":0},{"d":1,"t":65.5,"e":0.14},{"d":1,"t":66,"e":0},{"d":1,"t":66.5,"e":0.14},
{"d":1,"t":67,"e":0},{"d":1,"t":67.5,"e":0.15},{"d":1,"t":68,"e":0},{"d":1,"t":68.5,"e":0.15},
{"d":1,"t":69,"e":0},{"d":1,"t":69.5,"e":0.16},{"d":1,"t":70,"e":0},{"d":1,"t":70.5,"e":0.16},
{"d":1,"t":71,"e":0},{"d":1,"t":71.5,"e":0.17},{"d":1,"t":72,"e":0},{"d":1,"t":72.5,"e":0.17},{"d":1,"t":73,"e":0},{"d":1,"t":73.5,"e":0.17},
{"d":1,"t":74,"e":0},{"d":1,"t":74.5,"e":0.18},{"d":1,"t":75,"e":0},{"d":1,"t":75.5,"e":0.18},{"d":1,"t":76,"e":0},{"d":1,"t":76.5,"e":0.18},
{"d":1,"t":77,"e":0},{"d":1,"t":77.5,"e":0.19},{"d":1,"t":78,"e":0},{"d":1,"t":78.5,"e":0.19},{"d":1,"t":79,"e":0},{"d":1,"t":79.5,"e":0.19},{"d":1,"t":80,"e":0},{"d":1,"t":80.5,"e":0.19},{"d":1,"t":81,"e":0},{"d":1,"t":81.5,"e":0.19},{"d":1,"t":82,"e":0},{"d":1,"t":82.5,"e":0.19},{"d":1,"t":83,"e":0},{"d":1,"t":83.5,"e":0.19},
{"d":1,"t":84,"e":0},{"d":1,"t":84.5,"e":0.18},{"d":1,"t":85,"e":0},{"d":1,"t":85.5,"e":0.18},{"d":1,"t":86,"e":0},{"d":1,"t":86.5,"e":0.18},{"d":1,"t":87,"e":0},{"d":1,"t":87.5,"e":0.18},
{"d":1,"t":88,"e":0},{"d":1,"t":88.5,"e":0.17},
{"d":1,"t":89,"e":0},{"d":1,"t":89.5,"e":0.16},{"d":1,"t":90,"e":0},{"d":1,"t":90.5,"e":0.16},
{"d":1,"t":91,"e":0},{"d":1,"t":91.5,"e":0.15},{"d":1,"t":92,"e":0},{"d":1,"t":92.5,"e":0.15},
{"d":1,"t":93,"e":0},{"d":1,"t":93.5,"e":0.14},
{"d":1,"t":94,"e":0},{"d":1,"t":94.5,"e":0.13},{"d":1,"t":95,"e":0},{"d":1,"t":95.5,"e":0.13},
{"d":1,"t":96,"e":0},{"d":1,"t":96.5,"e":0.12},
{"d":1,"t":97,"e":0},{"d":1,"t":97.5,"e":0.11},{"d":1,"t":98,"e":0},{"d":1,"t":98.5,"e":0.11},
{"d":1,"t":99,"e":0},{"d":1,"t":99.5,"e":0.1},
{"d":1,"t":100,"e":0},{"d":1,"t":100.5,"e":0.09},
{"d":1,"t":101,"e":0},{"d":1,"t":101.5,"e":0.08},{"d":1,"t":102,"e":0},{"d":1,"t":102.5,"e":0.08},
{"d":1,"t":103,"e":0},{"d":1,"t":103.5,"e":0.07},{"d":1,"t":104,"e":0},{"d":1,"t":104.5,"e":0.07},
{"d":1,"t":105,"e":0},{"d":1,"t":105.5,"e":0.06},
{"d":1,"t":106,"e":0},{"d":1,"t":106.5,"e":0.05},{"d":1,"t":107,"e":0},{"d":1,"t":107.5,"e":0.05},
{"d":1,"t":108,"e":0},{"d":1,"t":108.5,"e":0.04},{"d":1,"t":109,"e":0},{"d":1,"t":109.5,"e":0.04},
{"d":1,"t":110,"e":0},{"d":1,"t":110.5,"e":0.03},{"d":1,"t":111,"e":0},{"d":1,"t":111.5,"e":0.03},{"d":1,"t":112,"e":0},{"d":1,"t":112.5,"e":0.03},
{"d":1,"t":113,"e":0},{"d":1,"t":113.5,"e":0.02},{"d":1,"t":114,"e":0},{"d":1,"t":114.5,"e":0.02},{"d":1,"t":115,"e":0},{"d":1,"t":115.5,"e":0.02},
{"d":1,"t":116,"e":0},{"d":1,"t":116.5,"e":0.01},{"d":1,"t":117,"e":0},{"d":1,"t":117.5,"e":0.01},{"d":1,"t":118,"e":0},{"d":1,"t":118.5,"e":0.01},{"d":1,"t":119,"e":0},{"d":1,"t":119.5,"e":0.01},{"d":1,"t":120,"e":0},{"d":1,"t":120.5,"e":0.01},{"d":1,"t":121,"e":0},{"d":1,"t":121.5,"e":0.01},{"d":1,"t":122,"e":0},{"d":1,"t":122.5,"e":0.01},{"d":1,"t":123,"e":0},{"d":1,"t":123.5,"e":0.01},{"d":1,"t":124,"e":0},{"d":1,"t":124.5,"e":0.01},{"d":1,"t":125,"e":0},{"d":1,"t":125.5,"e":0.01},{"d":1,"t":126,"e":0},{"d":1,"t":126.5,"e":0.01},{"d":1,"t":127,"e":0},{"d":1,"t":127.5,"e":0.01},{"d":1,"t":128,"e":0},{"d":1,"t":128.5,"e":0.01},
{"d":1,"t":129,"e":0},{"d":1,"t":129.5,"e":0.02},{"d":1,"t":130,"e":0},{"d":1,"t":130.5,"e":0.02},{"d":1,"t":131,"e":0},{"d":1,"t":131.5,"e":0.02},{"d":1,"t":132,"e":0},{"d":1,"t":132.5,"e":0.02},{"d":1,"t":133,"e":0},{"d":1,"t":133.5,"e":0.02},{"d":1,"t":134,"e":0},{"d":1,"t":134.5,"e":0.02},{"d":1,"t":135,"e":0},{"d":1,"t":135.5,"e":0.02},{"d":1,"t":136,"e":0},{"d":1,"t":136.5,"e":0.02},{"d":1,"t":137,"e":0},{"d":1,"t":137.5,"e":0.02},
{"d":1,"t":138,"e":0},{"d":1,"t":138.5,"e":0.03},{"d":1,"t":139,"e":0},{"d":1,"t":139.5,"e":0.03},{"d":1,"t":140,"e":0},{"d":1,"t":140.5,"e":0.03},{"d":1,"t":141,"e":0},{"d":1,"t":141.5,"e":0.03},{"d":1,"t":142,"e":0},{"d":1,"t":142.5,"e":0.03},{"d":1,"t":143,"e":0},{"d":1,"t":143.5,"e":0.03},{"d":1,"t":144,"e":0},{"d":1,"t":144.5,"e":0.03},{"d":1,"t":145,"e":0},{"d":1,"t":145.5,"e":0.03},{"d":1,"t":146,"e":0},{"d":1,"t":146.5,"e":0.03},{"d":1,"t":147,"e":0},{"d":1,"t":147.5,"e":0.03},{"d":1,"t":148,"e":0},{"d":1,"t":148.5,"e":0.03},{"d":1,"t":149,"e":0},{"d":1,"t":149.5,"e":0.03},{"d":1,"t":150,"e":0},{"d":1,"t":150.5,"e":0.03},{"d":1,"t":151,"e":0},{"d":1,"t":151.5,"e":0.03},{"d":1,"t":152,"e":0},{"d":1,"t":152.5,"e":0.03},{"d":1,"t":153,"e":0},{"d":1,"t":153.5,"e":0.03},{"d":1,"t":154,"e":0},{"d":1,"t":154.5,"e":0.03},
{"d":1,"t":155,"e":0},{"d":1,"t":155.5,"e":0.04},{"d":1,"t":156,"e":0},{"d":1,"t":156.5,"e":0.04},{"d":1,"t":157,"e":0},{"d":1,"t":157.5,"e":0.04},{"d":1,"t":158,"e":0},{"d":1,"t":158.5,"e":0.04},{"d":1,"t":159,"e":0},{"d":1,"t":159.5,"e":0.04},{"d":1,"t":160,"e":0},{"d":1,"t":160.5,"e":0.04},{"d":1,"t":161,"e":0},{"d":1,"t":161.5,"e":0.04},{"d":1,"t":162,"e":0},{"d":1,"t":162.5,"e":0.04},{"d":1,"t":163,"e":0},{"d":1,"t":163.5,"e":0.04},{"d":1,"t":164,"e":0},{"d":1,"t":164.5,"e":0.04},{"d":1,"t":165,"e":0},{"d":1,"t":165.5,"e":0.04},
{"d":1,"t":166,"e":0},{"d":1,"t":166.5,"e":0.03},{"d":1,"t":167,"e":0},{"d":1,"t":167.5,"e":0.03},{"d":1,"t":168,"e":0},{"d":1,"t":168.5,"e":0.03},{"d":1,"t":169,"e":0},{"d":1,"t":169.5,"e":0.03},{"d":1,"t":170,"e":0},{"d":1,"t":170.5,"e":0.03},{"d":1,"t":171,"e":0},{"d":1,"t":171.5,"e":0.03},{"d":1,"t":172,"e":0},{"d":1,"t":172.5,"e":0.03},{"d":1,"t":173,"e":0},{"d":1,"t":173.5,"e":0.03},{"d":1,"t":174,"e":0},{"d":1,"t":174.5,"e":0.03},{"d":1,"t":175,"e":0},{"d":1,"t":175.5,"e":0.03},{"d":1,"t":176,"e":0},{"d":1,"t":176.5,"e":0.03},{"d":1,"t":177,"e":0},{"d":1,"t":177.5,"e":0.03},{"d":1,"t":178,"e":0},{"d":1,"t":178.5,"e":0.03},{"d":1,"t":179,"e":0},{"d":1,"t":179.5,"e":0.03},{"d":1,"t":180,"e":0}
],
"ital": [
{"tx": 18.09, "ty": 7.944, "s": "ρ"},
{"tx": 18.09, "ty": 6.822, "s": "ρ"},
{"tx": 60.89, "ty": 7.944, "s": "Ŷ"}
],
"rom": [
{"tx": 26.43, "ty": 7.944, "s": "="},
{"tx": 36.98, "ty": 7.944, "s": "10 m"},
{"tx": 26.43, "ty": 6.822, "s": "= 0"}
],
"paren": [
{"tx": 33.5, "ty": 7.944, "s": "("},
{"tx": 56.64, "ty": 7.944, "s": ")"}
],
"bars": [
{"x1": 18.6, "x2": 24.0, "y": 8.42},
{"x1": 18.6, "x2": 24.0, "y": 7.267},
{"x1": 34.14, "x2": 39.34, "y": 7.433}
],
"dot": [
{"tx": 21.6, "ty": 7.389}
]
},
"resolve": {"axis": {"x": "independent", "y": "independent"}},
"layer": [
{
 "data": {"name": "curves"},
 "mark": {"type": "line", "interpolate": "monotone", "strokeCap": "round", "strokeJoin": "round", "clip": true},
 "encoding": {
  "x": {"field": "t", "type": "quantitative", "scale": {"domain": [0, 180], "nice": false, "zero": false},
        "axis": {"orient": "bottom", "values": [0,20,40,60,80,100,120,140,160,180], "title": "Time (days)", "grid": true, "tickSize": -10, "labelPadding": 23, "titlePadding": 18}},
  "y": {"field": "e", "type": "quantitative", "scale": {"domain": [0, 10], "nice": false},
        "axis": {"orient": "left", "values": [0,1,2,3,4,5,6,7,8,9,10], "title": "Distance Error Relative to Nominal (cm)", "grid": true, "tickSize": -10, "labelPadding": 19, "titlePadding": 9}},
  "color": {"field": "d", "type": "nominal",
            "scale": {"domain": [1,2,3,4,5], "range": ["#ff0000", "#00ee00", "#0000ff", "#ff00ff", "#ff8c00"]},
            "legend": {"title": null, "orient": "none", "legendX": 919, "legendY": 12, "labelExpr": "'Δt = ' + datum.label + (datum.label == '1' ? ' day' : ' days')", "symbolType": "stroke", "symbolSize": 2025, "clipHeight": 20, "rowPadding": 8, "labelFontSize": 25, "labelFont": "Liberation Sans", "labelColor": "black", "strokeColor": "black", "fillColor": "white", "padding": 11, "labelOffset": 11}},
  "strokeDash": {"field": "d", "type": "nominal",
            "scale": {"domain": [1,2,3,4,5], "range": [[1,0],[12,9],[1.5,8],[1,0],[1,0]]},
            "legend": {"title": null, "orient": "none", "legendX": 919, "legendY": 12, "labelExpr": "'Δt = ' + datum.label + (datum.label == '1' ? ' day' : ' days')", "symbolType": "stroke", "symbolSize": 2025, "clipHeight": 20, "rowPadding": 8, "labelFontSize": 25, "labelFont": "Liberation Sans", "labelColor": "black", "strokeColor": "black", "fillColor": "white", "padding": 11, "labelOffset": 11}},
  "strokeWidth": {"field": "d", "type": "ordinal",
            "scale": {"domain": [1,2,3,4,5], "range": [5, 5, 4, 2.5, 2.5]},
            "legend": {"title": null, "orient": "none", "legendX": 919, "legendY": 12, "labelExpr": "'Δt = ' + datum.label + (datum.label == '1' ? ' day' : ' days')", "symbolType": "stroke", "symbolSize": 2025, "clipHeight": 20, "rowPadding": 8, "labelFontSize": 25, "labelFont": "Liberation Sans", "labelColor": "black", "strokeColor": "black", "fillColor": "white", "padding": 11, "labelOffset": 11}}
 }
},
{
 "data": {"name": "ital"},
 "mark": {"type": "text", "font": "Liberation Serif", "fontSize": 60, "fontStyle": "italic", "align": "left", "baseline": "alphabetic", "color": "black"},
 "encoding": {
  "x": {"field": "tx", "type": "quantitative", "axis": {"orient": "top", "values": [0,20,40,60,80,100,120,140,160,180], "labels": false, "grid": false, "title": null, "tickSize": -10}},
  "y": {"field": "ty", "type": "quantitative", "axis": {"orient": "right", "values": [0,1,2,3,4,5,6,7,8,9,10], "labels": false, "grid": false, "title": null, "tickSize": -10}},
  "text": {"field": "s"}
 }
},
{
 "data": {"name": "rom"},
 "mark": {"type": "text", "font": "Liberation Serif", "fontSize": 60, "align": "left", "baseline": "alphabetic", "color": "black"},
 "encoding": {
  "x": {"field": "tx", "type": "quantitative", "axis": null},
  "y": {"field": "ty", "type": "quantitative", "axis": null},
  "text": {"field": "s"}
 }
},
{
 "data": {"name": "paren"},
 "mark": {"type": "text", "font": "Liberation Serif", "fontSize": 76, "align": "left", "baseline": "alphabetic", "color": "black"},
 "encoding": {
  "x": {"field": "tx", "type": "quantitative", "axis": null},
  "y": {"field": "ty", "type": "quantitative", "axis": null},
  "text": {"field": "s"}
 }
},
{
 "data": {"name": "bars"},
 "mark": {"type": "rule", "strokeWidth": 3, "color": "black"},
 "encoding": {
  "x": {"field": "x1", "type": "quantitative", "axis": null},
  "x2": {"field": "x2"},
  "y": {"field": "y", "type": "quantitative", "axis": null}
 }
},
{
 "data": {"name": "dot"},
 "mark": {"type": "point", "filled": true, "size": 30, "color": "black", "opacity": 1},
 "encoding": {
  "x": {"field": "tx", "type": "quantitative", "axis": null},
  "y": {"field": "ty", "type": "quantitative", "axis": null}
 }
}
]
}
